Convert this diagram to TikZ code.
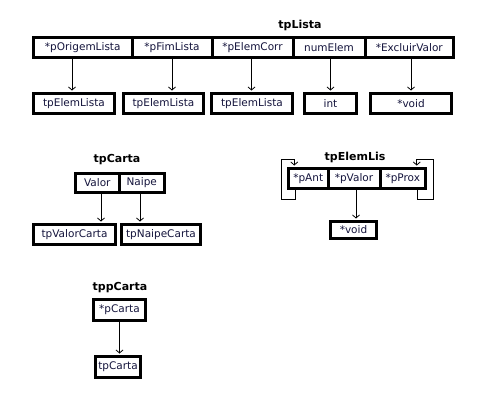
\documentclass[tikz,border=0pt]{standalone}
\usepackage{fontspec}
\setmainfont{DejaVu Sans}
\usetikzlibrary{arrows.meta}
\definecolor{txt}{RGB}{20,20,60}
\begin{document}
\begin{tikzpicture}[x=1pt,y=-1pt,
 box/.style={draw,line width=3pt,inner sep=0pt,font=\fontsize{10.5}{12}\selectfont,text=txt},
 ttl/.style={font=\bfseries\fontsize{11}{13}\selectfont},
 arr/.style={line width=0.8pt,shorten >=1.5pt,-{Straight Barb[length=3pt,width=7pt]}},
 ln/.style={line width=0.8pt}]
\useasboundingbox (0,0) rectangle (495,407);
\fill[white] (0,0) rectangle (495,407);
% tpLista
\node[ttl] (tl) at (300,25) {tpLista};
\node[box,minimum width=98.5pt,minimum height=20pt] (c1) at (82.75,47.5) {*pOrigemLista};
\node[box,minimum width=80pt,minimum height=20pt] (c2) at (172,47.5) {*pFimLista};
\node[box,minimum width=81pt,minimum height=20pt] (c3) at (252.5,47.5) {*pElemCorr};
\node[box,minimum width=72pt,minimum height=20pt] (c4) at (329,47.5) {numElem};
\node[box,minimum width=88.5pt,minimum height=20pt] (c5) at (409.25,47.5) {*ExcluirValor};
\node[box,minimum width=81pt,minimum height=20pt] (b1) at (74,103.5) {tpElemLista};
\node[box,minimum width=80pt,minimum height=20pt] (b2) at (163.5,103.5) {tpElemLista};
\node[box,minimum width=81pt,minimum height=20pt] (b3) at (252,103.5) {tpElemLista};
\node[box,minimum width=52pt,minimum height=20pt] (b4) at (330.5,103.5) {int};
\node[box,minimum width=81pt,minimum height=20pt] (b5) at (411,103.5) {*void};
\draw[arr] ([xshift=-2pt]b1.north |- c1.south) -- ([xshift=-2pt]b1.north);
\draw[arr] (c2.south) -- (c2.south |- b2.north);
\draw[arr] ([xshift=-1pt]c3.south) -- ([xshift=-1pt]c3.south |- b3.north);
\draw[arr] ([xshift=1.5pt]c4.south) -- ([xshift=1.5pt]c4.south |- b4.north);
\draw[arr] ([xshift=1.75pt]c5.south) -- ([xshift=1.75pt]c5.south |- b5.north);
% tpCarta
\node[ttl] (tc) at (117,160) {tpCarta};
\node[box,minimum width=43.5pt,minimum height=19pt] (v) at (97.25,182.5) {Valor};
\node[box,minimum width=45.5pt,minimum height=19pt] (n) at (141.75,182.5) {Naipe};
\node[box,minimum width=82pt,minimum height=20pt] (vc) at (74.5,234.5) {tpValorCarta};
\node[box,minimum width=79pt,minimum height=20pt] (nc) at (161,234.5) {tpNaipeCarta};
\draw[arr] ([xshift=3.75pt]v.south) -- ([xshift=3.75pt]v.south |- vc.north);
\draw[arr] ([xshift=-1.75pt]n.south) -- ([xshift=-1.75pt]n.south |- nc.north);
% tpElemLis
\node[ttl] (te) at (355,157) {tpElemLis};
\node[box,minimum width=39.5pt,minimum height=20pt] (e1) at (308.25,178.5) {*pAnt};
\node[box,minimum width=52pt,minimum height=20pt] (e2) at (354,178.5) {*pValor};
\node[box,minimum width=45.5pt,minimum height=20pt] (e3) at (402.75,178.5) {*pProx};
\node[box,minimum width=46pt,minimum height=17pt] (ev) at (353.5,230) {*void};
\draw[arr] ([xshift=2pt]e2.south) -- ([xshift=2pt]e2.south |- ev.north);
\draw[arr] ([xshift=-13pt]e1.south) -- ++(0,9.5) -- ++(-14,0) -- ++(0,-40) -- ++(13,0) -- ([xshift=-14pt]e1.north);
\draw[arr] ([xshift=15pt]e3.south) -- ++(0,9.5) -- ++(16,0) -- ++(0,-40) -- ++(-17,0) -- ([xshift=14pt]e3.north);
% tppCarta
\node[ttl] (tp) at (120,288) {tppCarta};
\node[box,minimum width=52pt,minimum height=21pt] (pc) at (119.5,310) {*pCarta};
\node[box,minimum width=45pt,minimum height=21pt] (tcb) at (118,367) {tpCarta};
\draw[arr] (pc.south) -- (pc.south |- tcb.north);
\end{tikzpicture}
\end{document}
